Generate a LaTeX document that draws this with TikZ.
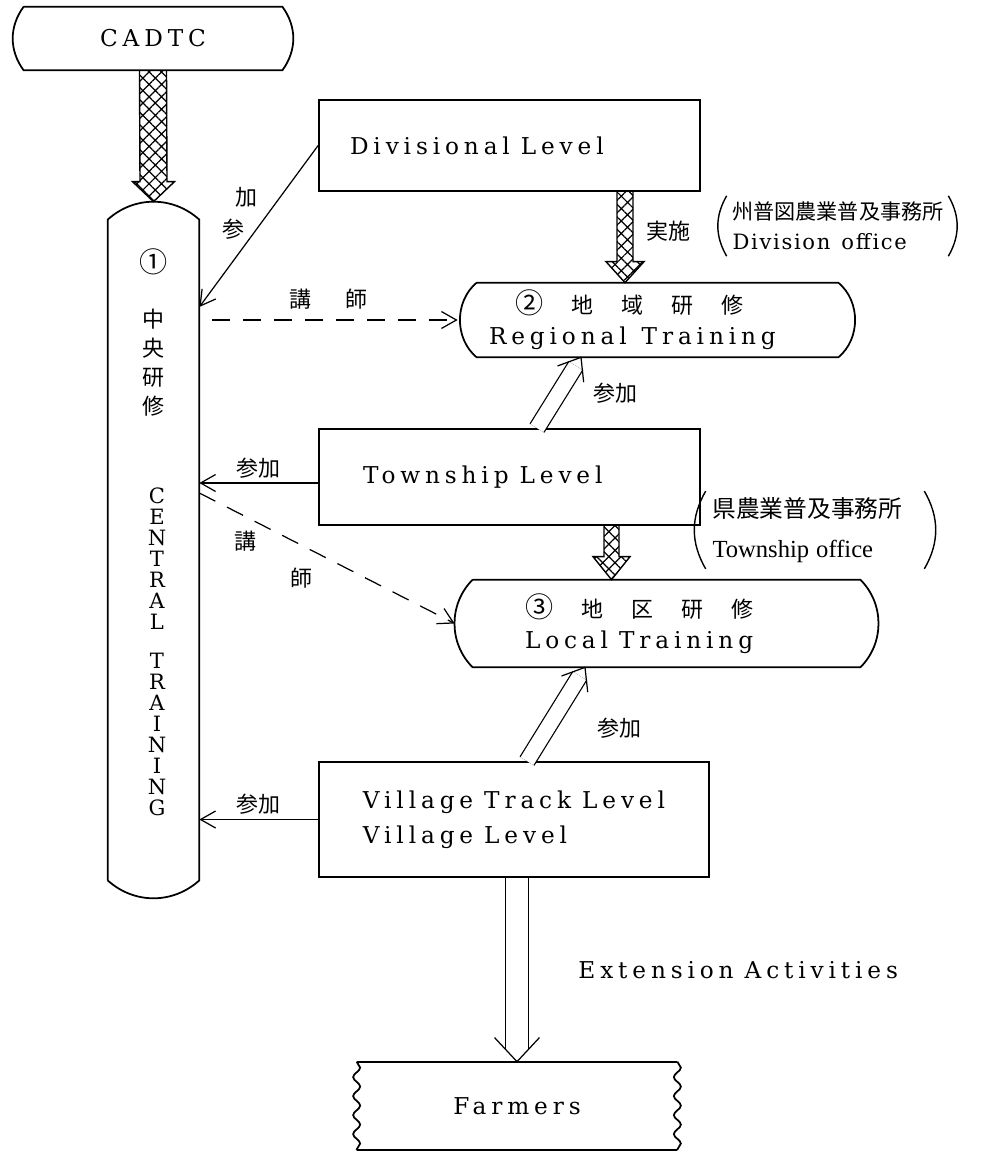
\documentclass[tikz,border=0pt]{standalone}
\usepackage{fontspec}
\setmainfont{DejaVu Serif}
\newfontfamily\jpfont{Noto Sans CJK JP}
\newfontfamily\tmsfont{Liberation Serif}
\usetikzlibrary{arrows.meta,positioning,calc,patterns.meta,decorations.pathmorphing}
\newcommand{\jp}{\jpfont\fontsize{12.5}{16.5}\selectfont}
\newcommand{\jgap}{\hspace{5.6mm}}
\newcommand{\wsp}{\hspace{2.2mm}}
\newcommand{\circnum}[1]{{\fontsize{16}{16}\selectfont #1}}

\begin{document}
\begin{tikzpicture}[x=0.2mm,y=-0.2mm,
  lat/.style={font=\fontsize{13.2}{17.6}\selectfont\addfontfeatures{LetterSpace=21}},
  box/.style={lat,draw,line width=1pt,minimum width=76.2mm,minimum height=18.2mm,align=left},
  bul/.style={lat,align=left,inner sep=0pt},
  jp/.style={font=\jp,inner sep=1pt},
  note/.style={align=left,inner xsep=0pt,font=\fontsize{12}{17}\selectfont\addfontfeatures{LetterSpace=8}},
  rim/.style={line width=1pt},
  hat/.style={line width=0.8pt,pattern={Hatch[angle=45,distance=5pt,line width=0.7pt]}},
  lnk/.style={line width=0.7pt,-{Straight Barb[length=3mm,width=3.4mm]}},
  lec/.style={lnk,dash pattern=on 3.6mm off 2.6mm},
  dbl/.style={double,double distance=3mm,line width=0.7pt},
  tipv/.style={line width=0.7pt,line join=miter}]
  \useasboundingbox (0,0) rectangle (992,1153);

  % CADTC and the central column
  \node[lat,minimum width=51.6mm,minimum height=12.6mm] (cadtc) at (153,38.5) {CADTC};
  \draw[rim] (cadtc.north west) -- (cadtc.north east) to[bend left=36] (cadtc.south east)
    -- (cadtc.south west) to[bend left=36] (cadtc.north west);
  \node[minimum width=18.2mm,minimum height=132mm] (col) at (153.5,550) {};
  \draw[rim] (col.south west) -- (col.north west) to[bend left=42] (col.north east)
    -- (col.south east) to[bend left=42] (col.south west);
  \coordinate (colTop) at ($(col.north)+(0,-18)$);
  \node[jp,align=center] (colJ) at (153.5,332) {\circnum{①}\\[5.2mm]中\\央\\研\\修};
  \node[align=center,font=\fontsize{12}{11.95}\selectfont] (colE) at (157,652)
    {C\\E\\N\\T\\R\\A\\L\\[3.6mm]T\\R\\A\\I\\N\\I\\N\\G};

  % levels
  \node[box,text width=63.8mm] (div) at (509.5,145.5) {Divisional\wsp Level};
  \node[box,minimum height=19.2mm,text width=58.6mm] (town) at (509.5,477) {Township\wsp Level};
  \node[box,minimum width=78mm,minimum height=23mm] (vil) at (514,819.5) {Village\wsp Track\wsp Level\\[2.4pt]Village\wsp Level};

  % trainings
  \node[bul,text width=67.4mm,minimum width=72.2mm,minimum height=14.8mm] (reg) at (657.5,320)
    {\hspace*{5.2mm}{\jp \circnum{②}\jgap 地\jgap 域\jgap 研\jgap 修}\\Regional\hspace{3mm}Training};
  \draw[rim] (reg.north west) -- (reg.north east) to[bend left=50] (reg.south east)
    -- (reg.south west) to[bend left=50] (reg.north west);
  \node[bul,text width=56.6mm,minimum width=77.4mm,minimum height=17.4mm] (loc) at (666.5,623.5)
    {{\jp \circnum{③}\jgap 地\jgap 区\jgap 研\jgap 修}\\Local\wsp Training};
  \draw[rim] (loc.north west) -- (loc.north east) to[bend left=45] (loc.south east)
    -- (loc.south west) to[bend left=45] (loc.north west);

  % farmers
  \node[lat,minimum width=64mm,minimum height=17.6mm] (frm) at (517,1106) {Farmers};
  \draw[rim] (frm.north west) -- (frm.north east);
  \draw[rim] (frm.south west) -- (frm.south east);
  \draw[rim,decorate,decoration={snake,amplitude=0.7mm,segment length=3.8mm}] (frm.north west) -- (frm.south west);
  \draw[rim,decorate,decoration={snake,amplitude=0.7mm,segment length=3.8mm}] (frm.north east) -- (frm.south east);

  % offices
  \node[note,text width=42mm,minimum width=44.2mm,minimum height=11.8mm] (ndiv) at (837.5,226)
    {{\jpfont\fontsize{12}{17}\selectfont 州普図農業普及事務所}\\Division\wsp office};
  \draw[line width=0.8pt] (ndiv.north west) to[bend right=30] (ndiv.south west);
  \draw[line width=0.8pt] (ndiv.north east) to[bend left=30] (ndiv.south east);
  \node[note,text width=41mm,minimum width=43.6mm,minimum height=14mm] (ntown) at (815,530)
    {{\jpfont\fontsize{13.5}{17}\selectfont 県農業普及事務所}\\[5.8pt]{\tmsfont\fontsize{14}{17}\selectfont Township office}};
  \draw[line width=0.8pt] (ntown.north west) to[bend right=30] (ntown.south west);
  \draw[line width=0.8pt] (ntown.north east) to[bend left=30] (ntown.south east);

  % hatched arrows
  \draw[hat] ($(cadtc.south)+(-13.5,0)$) -- ($(colTop)+(-13.5,-20)$) -- ($(colTop)+(-21,-20)$) -- (colTop)
    -- ($(colTop)+(21,-20)$) -- ($(colTop)+(13.5,-20)$) -- ($(cadtc.south)+(13.5,0)$);
  \coordinate (t2) at ($(div.south)+(115.5,0)$);
  \draw[hat] ($(t2)+(-8,0)$) -- ($(t2 |- reg.north)+(-8,-21)$) -- ($(t2 |- reg.north)+(-19,-21)$) -- (t2 |- reg.north)
    -- ($(t2 |- reg.north)+(19,-21)$) -- ($(t2 |- reg.north)+(8,-21)$) -- ($(t2)+(8,0)$);
  \node[jp] (jisshi) at ($(t2)+(43,39)$) {実施};
  \coordinate (t3) at ($(town.south)+(102,0)$);
  \draw[hat] ($(t3)+(-7.5,0)$) -- ($(t3 |- loc.north)+(-7.5,-23)$) -- ($(t3 |- loc.north)+(-18.5,-23)$) -- (t3 |- loc.north)
    -- ($(t3 |- loc.north)+(18.5,-23)$) -- ($(t3 |- loc.north)+(7.5,-23)$) -- ($(t3)+(7.5,0)$);

  % participation and lecturers
  \draw[lnk] (div.west) -- node[jp,pos=.32,left=4mm] (ka) {加} node[jp,pos=.52,left=2mm] (san) {参} ($(col.east)+(0,-243)$);
  \draw[lec,shorten <=2.6mm] (col.east |- reg.west) -- node[jp,above=1.6mm] (kou1) {講\hspace{7mm}師} ($(reg.west)+(-19,0)$);
  \draw[lnk] ($(town.west)+(0,6)$) -- node[jp,above=0.5mm] (san2) {参加} ($(town.west -| col.east)+(0,6)$);
  \draw[lec] ($(col.east)+(0,-57)$) -- node[jp,pos=.18,below=2.5mm] (kou2) {講} node[jp,pos=.4,below=4mm] (shi2) {師} ($(loc.west)+(-18,0)$);
  \draw[lnk] (vil.west) -- node[jp,above=0.5mm] (san3) {参加} (vil.west -| col.east);

  % double arrows
  \coordinate (a4) at ($(town.north)+(27.5,0)$);
  \coordinate (b4) at ($(reg.south)+(-76.5,0)$);
  \draw[dbl,shorten >=2mm] (a4) -- node[jp,right=6.5mm] (san4) {参加} (b4);
  \draw[tipv] ($(b4)!5mm!38:(a4)$) -- (b4) -- ($(b4)!5mm!-38:(a4)$);
  \coordinate (a5) at ($(vil.north)+(13,0)$);
  \coordinate (b5) at ($(loc.south)+(-81.5,0)$);
  \draw[dbl,shorten >=2mm] (a5) -- node[jp,pos=.35,right=9.5mm] (san5) {参加} (b5);
  \draw[tipv] ($(b5)!5mm!38:(a5)$) -- (b5) -- ($(b5)!5mm!-38:(a5)$);
  \coordinate (a6) at (vil.south -| frm.north);
  \draw[dbl,double distance=4.4mm,shorten >=2.4mm] (a6) -- node[lat,right=11mm] (ext) {Extension\wsp Activities} (frm.north);
  \draw[tipv] ($(frm.north)!6.6mm!43:(a6)$) -- (frm.north) -- ($(frm.north)!6.6mm!-43:(a6)$);
\end{tikzpicture}
\end{document}
